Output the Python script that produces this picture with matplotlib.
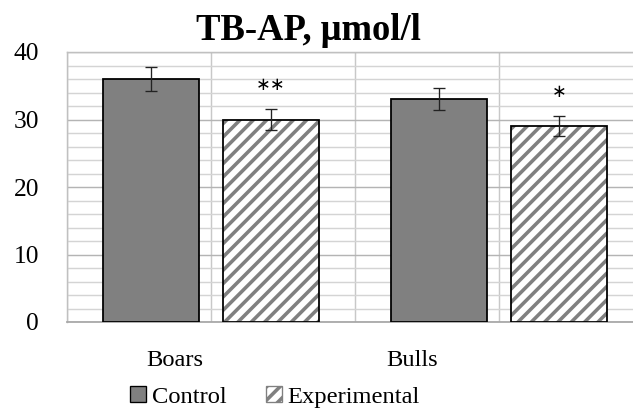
import numpy as np
import matplotlib.pyplot as plt
from matplotlib.patches import Patch

# data
groups = ['Boars', 'Bulls']
control = [36, 33]
control_err = [1.8, 1.65]
experimental = [30, 29]
experimental_err = [1.5, 1.5]
signif = ['**', '*']
y_ticks = [0, 10, 20, 30, 40]

plt.rcParams['font.family'] = ['Liberation Serif', 'DejaVu Serif']
plt.rcParams['hatch.linewidth'] = 3.2

DPI = 80
fig = plt.figure(figsize=(633 / DPI, 412 / DPI), dpi=DPI)
ax = fig.add_axes([67 / 633, 90 / 412, 576 / 633, 270 / 412])

x = np.arange(len(groups))
w = 0.333
off = 0.208

ax.bar(x - off, control, w, color='#808080', edgecolor='black', linewidth=1.6, zorder=3)
ax.errorbar(x - off, control, yerr=control_err, fmt='none', ecolor='#222222',
            elinewidth=1.2, capsize=5.5, capthick=1.2, zorder=4)

# hatched bars: gray stripes first, black outline on top
ax.bar(x + off, experimental, w, color='white', edgecolor='#808080', hatch='//',
       linewidth=0, zorder=3)
ax.bar(x + off, experimental, w, color='none', edgecolor='black', linewidth=1.6, zorder=3)
ax.errorbar(x + off, experimental, yerr=experimental_err, fmt='none', ecolor='#222222',
            elinewidth=1.2, capsize=5.5, capthick=1.2, zorder=4)

for xi, v, e, s in zip(x + off, experimental, experimental_err, signif):
    ax.text(xi, v + e + 3.6, s.replace('*', '∗'), ha='center', va='center',
            fontsize=16, family='DejaVu Sans', zorder=5)

ax.set_xlim(-0.5, 1.5)
ax.set_ylim(0, 40)
ax.set_yticks(y_ticks)
ax.set_yticks(np.arange(0, 41, 2), minor=True)
ax.set_xticks(np.arange(-0.5, 1.51, 0.5), minor=True)
ax.set_xticks([-0.125, 0.698])
ax.set_xticklabels(groups)
ax.tick_params(axis='both', which='both', length=0)
ax.tick_params(axis='y', labelsize=23, pad=25)
ax.tick_params(axis='x', labelsize=22, pad=25)

ax.grid(True, which='minor', axis='y', color='#d4d4d4', linewidth=1.3, zorder=0)
ax.grid(True, which='major', axis='y', color='#b4b4b4', linewidth=1.3, zorder=0)
ax.grid(True, which='minor', axis='x', color='#c8c8c8', linewidth=1.3, zorder=0)
ax.grid(False, which='major', axis='x')

for side in ['top', 'right', 'left']:
    ax.spines[side].set_color('#c0c0c0')
    ax.spines[side].set_linewidth(1.3)
ax.spines['bottom'].set_color('#a8a8a8')
ax.spines['bottom'].set_linewidth(1.6)

fig.text(308 / 633, 1 - 30 / 412, 'TB-AP, μmol/l', ha='center', va='center',
         fontsize=33, fontweight='bold')

handles = [Patch(facecolor='#808080', edgecolor='black', linewidth=1.2),
           Patch(facecolor='white', edgecolor='#808080', hatch='//', linewidth=1.2)]
fig.legend(handles, ['Control', 'Experimental'], loc='center',
           bbox_to_anchor=(275 / 633, 1 - 397 / 412), ncol=2, frameon=False,
           fontsize=22, handlelength=0.65, handleheight=0.65, handletextpad=0.25,
           columnspacing=1.6, borderpad=0)

fig.savefig('out.png', dpi=DPI)
